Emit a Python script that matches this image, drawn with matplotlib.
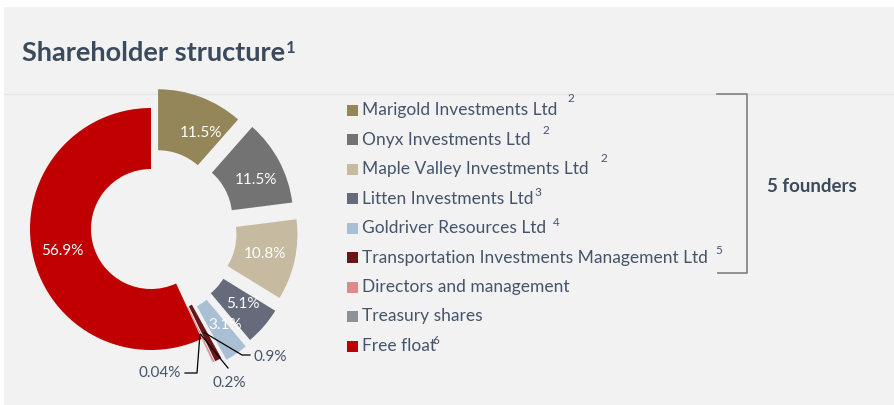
import numpy as np
import matplotlib.pyplot as plt
from matplotlib.patches import Rectangle

W, H = 894, 405

holders = ["Marigold Investments Ltd", "Onyx Investments Ltd", "Maple Valley Investments Ltd",
           "Litten Investments Ltd", "Goldriver Resources Ltd",
           "Transportation Investments Management Ltd", "Directors and management",
           "Treasury shares", "Free float"]
shares = [11.5, 11.5, 10.8, 5.1, 3.1, 0.9, 0.2, 0.04, 56.9]
share_labels = ["11.5%", "11.5%", "10.8%", "5.1%", "3.1%", "0.9%", "0.2%", "0.04%", "56.9%"]
footnotes = ["2", "2", "2", "3", "4", "5", "", "", "6"]
colors = ['#958659', '#737373', '#c6bba0', '#666b7c', '#a9c0d4',
          '#6a1518', '#dc8a8a', '#8c9198', '#c00000']
explode = [20, 24, 26, 28, 30, 26, 26, 26, 0]   # pixels
# small nudges of inner labels (px right, px down)
label_nudge = [(11, 7), (4, 5), (0, 0), (2, -2), (6, -3), (0, 0), (0, 0), (0, 0), (0, 3)]

text_col = '#44546a'
title_col = '#3b4a5c'
plt.rcParams['font.family'] = ['Lato', 'DejaVu Sans']


def Y(y):
    # pixel row (from top) to data y
    return H - y


fig = plt.figure(figsize=(W / 100, H / 100), dpi=100, facecolor='white')
ax = fig.add_axes([0, 0, 1, 1])

cx, cy, R, ring = 151, Y(229), 121, 61
wedges, _ = ax.pie(shares, colors=colors, startangle=90, counterclock=False,
                   center=(cx, cy), radius=R, explode=explode,
                   wedgeprops=dict(width=ring, edgecolor='none'))
ax.set_xlim(0, W)
ax.set_ylim(0, H)
ax.axis('off')

ax.add_patch(Rectangle((4, 0), W - 4, H - 7, facecolor='#f2f2f2', edgecolor='none', zorder=0))
ax.plot([4, W], [Y(94), Y(94)], color='#e6e6e6', lw=1, zorder=0.5)

fig.canvas.draw()
renderer = fig.canvas.get_renderer()
inv = ax.transData.inverted()


def text_end(t):
    bb = t.get_window_extent(renderer=renderer)
    return inv.transform((bb.x1, bb.y0))[0]


title = ax.text(22, Y(61), "Shareholder structure", fontsize=19.5, fontweight='bold', color=title_col)
ax.text(text_end(title) + 1, Y(48), "1", fontsize=12, fontweight='bold', color=title_col,
        va='center')


def anchor(w):
    a = np.deg2rad((w.theta1 + w.theta2) / 2)
    r = w.r - w.width / 2
    return w.center[0] + r * np.cos(a), w.center[1] + r * np.sin(a)


# labels inside the ring
for i in [0, 1, 2, 3, 4, 8]:
    x, y = anchor(wedges[i])
    dx, dy = label_nudge[i]
    ax.text(x + dx, y - dy, share_labels[i], color='white', fontsize=11, ha='center',
            va='center', zorder=6)

# leader labels for small slices
leaders = {
    5: ([(242, 355), (250, 355)], (254, 357), 'left'),
    6: ([(228, 368)], (229, 383), 'center'),
    7: ([(197, 373), (185, 373)], (181, 373), 'right'),
}
for i, (pts, tpos, ha) in leaders.items():
    x0, y0 = anchor(wedges[i])
    xs = [x0] + [p[0] for p in pts]
    ys = [y0] + [Y(p[1]) for p in pts]
    ax.plot(xs, ys, color='black', lw=0.9, zorder=5)
    ax.text(tpos[0], Y(tpos[1]), share_labels[i], color=text_col, fontsize=11,
            ha=ha, va='center')

# legend
row0, step = 110, 29.5
sup_gap = [10, 12, 12, 1, 7, 7, 0, 0, -4]
sup_rise = [12, 9, 11, 6, 6, 7, 0, 0, 6]
for i, name in enumerate(holders):
    yc = row0 + i * step
    ax.add_patch(Rectangle((347, Y(yc) - 5.5), 11, 11, facecolor=colors[i], edgecolor='none'))
    t = ax.text(362, Y(yc), name, color=text_col, fontsize=12.5, va='center')
    if footnotes[i]:
        ax.text(text_end(t) + sup_gap[i], Y(yc - sup_rise[i]), footnotes[i], color=text_col,
                fontsize=8.5, va='center')

# founders bracket
ax.plot([717, 747, 747, 718], [Y(94), Y(94), Y(273), Y(273)], color='#808080', lw=1.2)
ax.text(767, Y(187), "5 founders", fontsize=13.5, fontweight='bold', color=title_col, va='center')

fig.savefig("out.png", dpi=100, facecolor='white')
